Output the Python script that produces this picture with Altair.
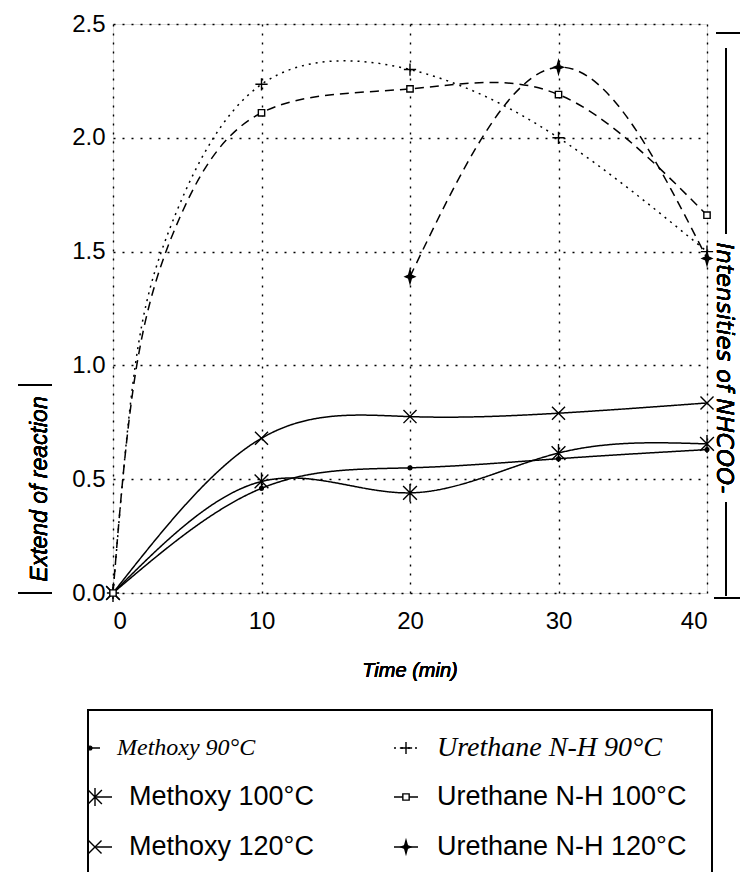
import altair as alt
import pandas as pd

# ---------------- data ----------------
time = [0, 10, 20, 30, 40]
methoxy_90 = [0.0, 0.46, 0.55, 0.59, 0.63]
methoxy_100 = [0.0, 0.49, 0.44, 0.615, 0.655]
methoxy_120 = [0.0, 0.68, 0.775, 0.79, 0.835]
urethane_90 = [0.0, 2.235, 2.30, 2.00, 1.50]
urethane_100 = [0.0, 2.11, 2.215, 2.19, 1.66]
urethane_120_time = [20, 30, 40]
urethane_120 = [1.39, 2.31, 1.47]

# early part of the two fast urethane curves (no markers there)
u90_trace_time = [1.5, 4.0]
u90_trace = [1.0, 1.63]
u100_trace_time = [1.6, 4.5]
u100_trace = [1.0, 1.65]

series_names = ["Methoxy 90°C", "Methoxy 100°C", "Methoxy 120°C",
                "Urethane N-H 90°C", "Urethane N-H 100°C", "Urethane N-H 120°C"]
y_ticks = [0.0, 0.5, 1.0, 1.5, 2.0, 2.5]
x_ticks = [0, 10, 20, 30, 40]

# ---------------- styles per series ----------------
dash_style = [[1, 0], [1, 0], [1, 0], [2, 5], [9, 6], [9, 6]]
shape_style = [
    "circle",
    "M-1,-1L1,1M-1,1L1,-1M0,-1.3L0,1.3",
    "M-1,-1L1,1M-1,1L1,-1",
    "M-1,0L1,0M0,-1L0,1",
    "square",
    "M0,-1.4L0.3,-0.3L1,0L0.3,0.3L0,1.4L-0.3,0.3L-1,0L-0.3,-0.3Z",
]
fill_style = ["black", "black", "black", "black", "white", "black"]
size_style = [14, 190, 170, 150, 40, 90]
style = {n: (sh, fi, si) for n, sh, fi, si in zip(series_names, shape_style, fill_style, size_style)}

# ---------------- tables ----------------
pts = []
for name, xs, ys in [
    (series_names[0], time, methoxy_90),
    (series_names[1], time, methoxy_100),
    (series_names[2], time, methoxy_120),
    (series_names[3], time, urethane_90),
    (series_names[4], time, urethane_100),
    (series_names[5], urethane_120_time, urethane_120),
]:
    for x, y in zip(xs, ys):
        pts.append({"series": name, "time": x, "value": y})
points_df = pd.DataFrame(pts)
points_df["shape"] = points_df["series"].map(lambda s: style[s][0])
points_df["fillc"] = points_df["series"].map(lambda s: style[s][1])
points_df["msize"] = points_df["series"].map(lambda s: style[s][2])

line_rows = [dict(series=r["series"], time=r["time"], value=r["value"]) for r in pts]
for x, y in zip(u90_trace_time, u90_trace):
    line_rows.append({"series": series_names[3], "time": x, "value": y})
for x, y in zip(u100_trace_time, u100_trace):
    line_rows.append({"series": series_names[4], "time": x, "value": y})
lines_df = pd.DataFrame(line_rows).sort_values(["series", "time"])

# legend table (pixel positions relative to the plot origin)
leg_rows = [
    # series, marker x, line x1, line x2, y, text x, font size
    (series_names[0], -23, -23, -13, 724, 4, 24),
    (series_names[1], -18, -18, -1, 773, 16, 27),
    (series_names[2], -18, -18, -1, 823, 16, 27),
    (series_names[3], 293, 281, 306, 724, 324, 28),
    (series_names[4], 293, 281, 306, 773, 324, 27),
    (series_names[5], 293, 281, 306, 823, 324, 27),
]
legend_df = pd.DataFrame(leg_rows, columns=["series", "mx", "lx1", "lx2", "ly", "tx", "fs"])
legend_df["label"] = legend_df["series"]
legend_df["shape"] = legend_df["series"].map(lambda s: style[s][0])
legend_df["fillc"] = legend_df["series"].map(lambda s: style[s][1])
legend_df["msize"] = legend_df["series"].map(lambda s: style[s][2])

dash = alt.StrokeDash("series:N", scale=alt.Scale(domain=series_names, range=dash_style), legend=None)
shape = alt.Shape("shape:N", scale=None)
fill = alt.Fill("fillc:N", scale=None)
size = alt.Size("msize:Q", scale=None)

SANS = "Liberation Sans, Arial, Helvetica, sans-serif"
SERIF = "Liberation Serif, Times New Roman, serif"
WIDE = "DejaVu Sans, Liberation Sans, sans-serif"

x_enc = alt.X("time:Q", scale=alt.Scale(domain=[0, 40], nice=False, zero=False),
              axis=alt.Axis(values=x_ticks, title=None, format="d", grid=True,
                            gridDash=[2, 7], gridColor="black", gridWidth=1.4,
                            ticks=False, domain=False, labelFont=SANS,
                            labelFontSize=24, labelPadding=16, labelColor="black"))
y_enc = alt.Y("value:Q", scale=alt.Scale(domain=[0, 2.5], nice=False),
              axis=alt.Axis(values=y_ticks, title=None, format=".1f", grid=True,
                            gridDash=[2, 7], gridColor="black", gridWidth=1.4,
                            ticks=False, domain=False, labelFont=SANS,
                            labelFontSize=24, labelPadding=8, labelColor="black"))

lines = alt.Chart(lines_df).mark_line(interpolate="natural", color="black", strokeWidth=1.5).encode(
    x=x_enc, y=y_enc, strokeDash=dash, order="time:Q"
)
markers = alt.Chart(points_df).mark_point(stroke="black", strokeWidth=1.4, opacity=1,
                                          fillOpacity=1).encode(
    x="time:Q", y="value:Q", shape=shape, fill=fill, size=size
)

# legend
leg_box = alt.Chart(legend_df).mark_rect(fill=None, stroke="black", strokeWidth=1.5).encode(
    x=alt.value(-25), x2=alt.value(599), y=alt.value(686), y2=alt.value(900)
)
leg_lines = alt.Chart(legend_df).mark_rule(color="black", strokeWidth=1.5).encode(
    x=alt.X("lx1:Q", scale=None, axis=None), x2="lx2:Q",
    y=alt.Y("ly:Q", scale=None, axis=None), strokeDash=dash
)
leg_marks = alt.Chart(legend_df).mark_point(stroke="black", strokeWidth=1.4, opacity=1,
                                            fillOpacity=1).encode(
    x=alt.X("mx:Q", scale=None, axis=None), y=alt.Y("ly:Q", scale=None, axis=None),
    shape=shape, fill=fill, size=size
)
leg_sans = alt.Chart(legend_df).transform_filter(
    "datum.series != 'Methoxy 90°C' && datum.series != 'Urethane N-H 90°C'"
).mark_text(font=SANS, align="left", baseline="middle", color="black").encode(
    x=alt.X("tx:Q", scale=None, axis=None), y=alt.Y("ly:Q", scale=None, axis=None), text="label:N",
    size=alt.Size("fs:Q", scale=None)
)
leg_serif = alt.Chart(legend_df).transform_filter(
    "datum.series == 'Methoxy 90°C' || datum.series == 'Urethane N-H 90°C'"
).mark_text(font=SERIF, fontStyle="italic", align="left", baseline="middle", color="black").encode(
    x=alt.X("tx:Q", scale=None, axis=None), y=alt.Y("ly:Q", scale=None, axis=None), text="label:N",
    size=alt.Size("fs:Q", scale=None)
)

x_title = alt.Chart(legend_df).mark_text(text="Time (min)", font=SANS, fontStyle="italic",
                                         fontSize=20, align="center", baseline="middle",
                                         color="black").encode(
    x=alt.value(297), y=alt.value(647)
)
# left title with its bracket bars
y_title = alt.Chart(legend_df).mark_text(text="Extend  of  reaction", font=SANS, fontStyle="italic",
                                         fontSize=23, angle=270, align="center",
                                         baseline="middle", color="black").encode(
    x=alt.value(-73), y=alt.value(465)
)
y_bar_top = alt.Chart(legend_df).mark_rule(color="black", strokeWidth=1.5).encode(
    x=alt.value(-95), x2=alt.value(-61), y=alt.value(361)
)
y_bar_bot = alt.Chart(legend_df).mark_rule(color="black", strokeWidth=1.5).encode(
    x=alt.value(-95), x2=alt.value(-61), y=alt.value(569)
)
# right title with its bracket
r_title = alt.Chart(legend_df).mark_text(text="Intensities of NHCOO-", font=WIDE, fontStyle="oblique",
                                         fontSize=23, angle=90, align="center",
                                         baseline="alphabetic", color="black").encode(
    x=alt.value(604), y=alt.value(344)
)
r_bar_top = alt.Chart(legend_df).mark_rule(color="black", strokeWidth=1.5).encode(
    x=alt.value(603), x2=alt.value(627), y=alt.value(9)
)
r_line_top = alt.Chart(legend_df).mark_rule(color="black", strokeWidth=1.5).encode(
    x=alt.value(613), y=alt.value(24), y2=alt.value(210)
)
r_line_bot = alt.Chart(legend_df).mark_rule(color="black", strokeWidth=1.5).encode(
    x=alt.value(613), y=alt.value(478), y2=alt.value(572)
)
r_bar_bot = alt.Chart(legend_df).mark_rule(color="black", strokeWidth=1.5).encode(
    x=alt.value(601), x2=alt.value(627), y=alt.value(574)
)

chart = alt.layer(
    lines, markers, x_title, y_title, y_bar_top, y_bar_bot,
    r_title, r_bar_top, r_line_top, r_line_bot, r_bar_bot,
    leg_box, leg_lines, leg_marks, leg_sans, leg_serif
).properties(
    width=594, height=569,
    autosize=alt.AutoSizeParams(type="none"),
    padding={"left": 105, "top": 16, "right": 34, "bottom": 279},
).configure_view(
    stroke="black", strokeWidth=1.6
).configure(background="white")

chart.save("out.html", embed_options={"renderer": "svg", "actions": False})
